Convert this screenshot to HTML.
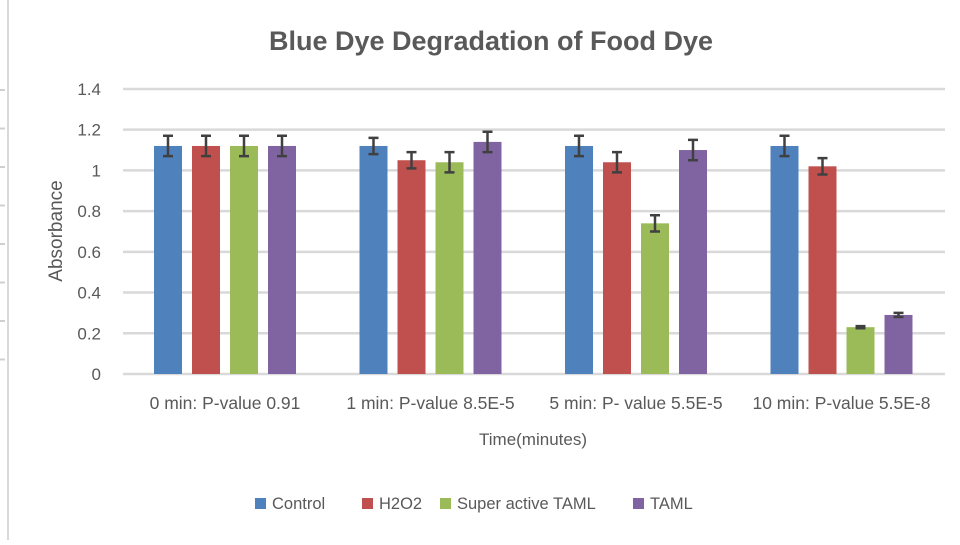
<!DOCTYPE html>
<html><head><meta charset="utf-8"><style>
body{margin:0;background:#fff;width:960px;height:540px;overflow:hidden;font-family:"Liberation Sans",sans-serif}
</style></head><body>
<svg width="960" height="540">
<line x1="8" y1="0" x2="8" y2="540" stroke="#d9d9d9" stroke-width="2"/>
<g id="grid"></g>
<g id="bars"></g>
<text x="491" y="50" text-anchor="middle" font-size="27" font-weight="bold" fill="#595959">Blue Dye Degradation of Food Dye</text>
<text transform="translate(62,231) rotate(-90)" text-anchor="middle" font-size="19" fill="#595959">Absorbance</text>
<text x="533" y="445" text-anchor="middle" font-size="17" fill="#595959">Time(minutes)</text>
<g id="legend"></g>
</svg>
<script>
const categories=["0 min: P-value 0.91","1 min: P-value 8.5E-5","5 min: P- value 5.5E-5","10 min: P-value 5.5E-8"];
const seriesNames=["Control","H2O2","Super active TAML","TAML"];
const control=[1.12,1.12,1.12,1.12];
const h2o2=[1.12,1.05,1.04,1.02];
const superTaml=[1.12,1.04,0.74,0.23];
const taml=[1.12,1.14,1.10,0.29];
const errors=[[0.05,0.04,0.05,0.05],[0.05,0.04,0.05,0.04],[0.05,0.05,0.04,0.005],[0.05,0.05,0.05,0.01]];
const yTicks=[0,0.2,0.4,0.6,0.8,1,1.2,1.4];
const yTickLabels=["0","0.2","0.4","0.6","0.8","1","1.2","1.4"];
const colors=["#4f81bd","#c0504d","#9bbb59","#8064a2"];
const NS="http://www.w3.org/2000/svg";
const y0=374,yScale=203.6,xL=123,catW=205.5;
const Y=v=>y0-v*yScale;
function mk(tag,attrs,parent){const e=document.createElementNS(NS,tag);for(const k in attrs)e.setAttribute(k,attrs[k]);parent.appendChild(e);return e;}
const grid=document.getElementById('grid');
yTicks.forEach((t,i)=>{
 const l=mk('line',{x1:xL,x2:945,y1:Y(t),y2:Y(t),stroke:'#d9d9d9','stroke-width':2.5},grid);
 
 
 const tx=mk('text',{x:101,y:Y(t)+6,'text-anchor':'end','font-size':17,fill:'#595959'},grid);
 tx.textContent=yTickLabels[i];
 
 
});
for(let i=0;i<8;i++){const t=mk('line',{x1:0,x2:5,y1:90+i*38.5,y2:90+i*38.5,stroke:'#d0d0d0','stroke-width':2},grid);
 
 }
const bars=document.getElementById('bars');
const series=[control,h2o2,superTaml,taml];
categories.forEach((c,ci)=>{
 series.forEach((s,si)=>{
  const x=xL+ci*catW+31+si*38;
  const r=mk('rect',{x:x,y:Y(s[ci]),width:28,height:s[ci]*yScale,fill:colors[si]},bars);
  
  
  const e=errors[si][ci],cx=x+14;
  const g=mk('path',{d:`M${cx},${Y(s[ci]+e)}V${Y(s[ci]-e)}M${cx-5},${Y(s[ci]+e)}H${cx+5}M${cx-5},${Y(s[ci]-e)}H${cx+5}`,stroke:'#404040','stroke-width':2.5,fill:'none'},bars);
  
  
 });
 const t=mk('text',{x:xL+ci*catW+102,y:409,'text-anchor':'middle','font-size':17.5,fill:'#595959'},bars);
 t.textContent=c;
 
 
});
const lg=document.getElementById('legend');
const lx=[255,362,440,633];
seriesNames.forEach((n,i)=>{
 const r=mk('rect',{x:lx[i],y:498,width:11,height:11,fill:colors[i]},lg);
 
 
 const t=mk('text',{x:lx[i]+17,y:509,'font-size':16.5,fill:'#595959'},lg);
 t.textContent=n;
 
 
});
</script>
</body></html>
